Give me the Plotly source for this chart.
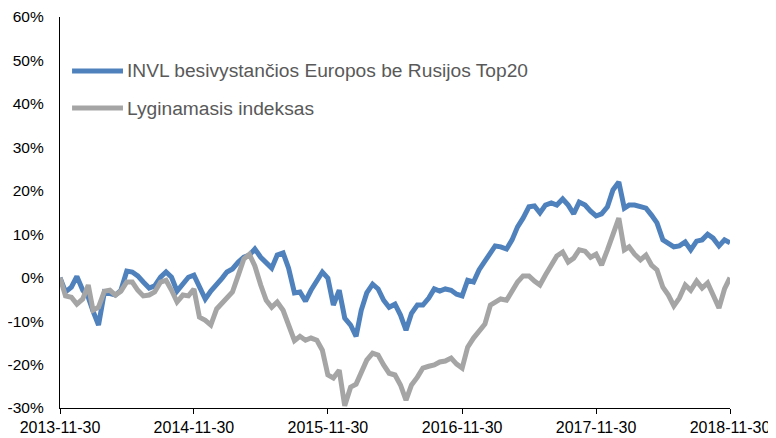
import plotly.graph_objects as go

dates = [
    "2013-11-30", "2013-12-15", "2013-12-31",
    "2014-01-15", "2014-01-31", "2014-02-15", "2014-02-28", "2014-03-15", "2014-03-31",
    "2014-04-15", "2014-04-30", "2014-05-15", "2014-05-31", "2014-06-15", "2014-06-30",
    "2014-07-15", "2014-07-31", "2014-08-15", "2014-08-31", "2014-09-15", "2014-09-30",
    "2014-10-15", "2014-10-31", "2014-11-15", "2014-11-30", "2014-12-15", "2014-12-31",
    "2015-01-15", "2015-01-31", "2015-02-15", "2015-02-28", "2015-03-15", "2015-03-31",
    "2015-04-15", "2015-04-30", "2015-05-15", "2015-05-31", "2015-06-15", "2015-06-30",
    "2015-07-15", "2015-07-31", "2015-08-15", "2015-08-31", "2015-09-15", "2015-09-30",
    "2015-10-15", "2015-10-31", "2015-11-15", "2015-11-30", "2015-12-15", "2015-12-31",
    "2016-01-15", "2016-01-31", "2016-02-15", "2016-02-29", "2016-03-15", "2016-03-31",
    "2016-04-15", "2016-04-30", "2016-05-15", "2016-05-31", "2016-06-15", "2016-06-30",
    "2016-07-15", "2016-07-31", "2016-08-15", "2016-08-31", "2016-09-15", "2016-09-30",
    "2016-10-15", "2016-10-31", "2016-11-15", "2016-11-30", "2016-12-15", "2016-12-31",
    "2017-01-15", "2017-01-31", "2017-02-15", "2017-02-28", "2017-03-15", "2017-03-31",
    "2017-04-15", "2017-04-30", "2017-05-15", "2017-05-31", "2017-06-15", "2017-06-30",
    "2017-07-15", "2017-07-31", "2017-08-15", "2017-08-31", "2017-09-15", "2017-09-30",
    "2017-10-15", "2017-10-31", "2017-11-15", "2017-11-30", "2017-12-15", "2017-12-31",
    "2018-01-15", "2018-01-31", "2018-02-15", "2018-02-28", "2018-03-15", "2018-03-31",
    "2018-04-15", "2018-04-30", "2018-05-15", "2018-05-31", "2018-06-15", "2018-06-30",
    "2018-07-15", "2018-07-31", "2018-08-15", "2018-08-31", "2018-09-15", "2018-09-30",
    "2018-10-15", "2018-10-31", "2018-11-15", "2018-11-30",
]

invl = [
    0, -3.3, -2.2, 0.3, -2.9, -4.5, -7.7, -10.9, -3.3, -3.8,
    -4.0, -2.9, 1.5, 1.3, 0.4, -1.0, -2.4, -1.9, 0.1, 1.3,
    0.1, -3.1, -1.2, 0.1, 0.6, -2.0, -4.9, -3.1, -1.7, -0.1,
    1.3, 2.0, 3.6, 4.7, 5.2, 6.6, 4.7, 3.4, 2.2, 5.2,
    5.7, 2.2, -3.5, -3.3, -5.4, -2.9, -0.6, 1.3, -0.1, -6.3,
    -2.9, -9.3, -10.9, -13.5, -7.5, -3.5, -1.5, -2.6, -5.2, -6.8,
    -6.1, -8.6, -12.1, -8.2, -6.3, -6.3, -4.7, -2.6, -3.1, -2.6,
    -2.9, -3.8, -4.2, -0.6, -1.0, 1.8, 3.8, 5.7, 7.3, 7.1,
    6.6, 8.7, 11.7, 13.7, 16.3, 16.5, 14.9, 16.7, 17.2, 16.7,
    18.1, 16.7, 14.7, 17.4, 16.7, 15.3, 14.2, 14.7, 16.3, 20.2,
    22.0, 16.0, 16.7, 16.7, 16.3, 16.0, 14.4, 12.6, 8.7, 8.0,
    7.1, 7.3, 8.2, 6.4, 8.4, 8.7, 10.0, 9.1, 7.3, 8.7,
    8.0,
]

index_vals = [
    0, -4.2, -4.5, -6.1, -4.9, -1.7, -7.5, -6.8, -3.1, -2.9,
    -4.0, -3.1, -1.0, -1.0, -2.9, -4.2, -4.0, -3.3, -1.0, -0.6,
    -2.9, -5.6, -4.0, -4.2, -2.6, -9.1, -9.8, -10.9, -7.2, -5.9,
    -4.7, -3.3, 0.6, 4.3, 5.4, 2.7, -1.7, -5.2, -6.8, -5.6,
    -7.5, -10.9, -14.5, -13.5, -14.4, -13.9, -14.4, -16.7, -22.4, -23.1,
    -21.3, -29.5, -25.2, -24.5, -21.5, -19.0, -17.4, -17.8, -20.1, -22.0,
    -22.4, -24.7, -28.2, -24.7, -22.9, -20.8, -20.4, -20.1, -19.4, -19.2,
    -18.5, -19.9, -20.8, -16.0, -13.9, -12.3, -10.7, -6.3, -5.6, -4.9,
    -5.2, -3.1, -1.0, 0.4, 0.4, -0.8, -1.7, 0.6, 2.7, 5.0,
    5.9, 3.6, 4.5, 6.4, 6.1, 4.7, 5.4, 2.9, 6.4, 10.3,
    13.7, 6.4, 7.1, 5.4, 4.1, 5.2, 2.9, 1.8, -2.2, -4.0,
    -6.5, -4.7, -1.7, -2.9, -0.8, -2.4, -1.2, -4.0, -7.0, -2.6,
    0.0,
]

series_names = ["INVL besivystančios Europos be Rusijos Top20", "Lyginamasis indeksas"]
series_colors = ["#4F81BD", "#A5A5A5"]

x_tick_vals = ["2013-11-30", "2014-11-30", "2015-11-30", "2016-11-30", "2017-11-30", "2018-11-30"]
y_tick_vals = [-30, -20, -10, 0, 10, 20, 30, 40, 50, 60]
y_tick_text = ["-30%", "-20%", "-10%", "0%", "10%", "20%", "30%", "40%", "50%", "60%"]

fig = go.Figure()
for name, vals, color in zip(series_names, [invl, index_vals], series_colors):
    fig.add_trace(go.Scatter(
        x=dates, y=vals, name=name, mode="lines",
        line=dict(color=color, width=5, shape="linear"),
        showlegend=False,
    ))

# manual legend (real text)
legend_y = [0.862, 0.767]
for name, color, ly in zip(series_names, series_colors, legend_y):
    fig.add_shape(type="line", xref="paper", yref="paper",
                  x0=0.018, x1=0.094, y0=ly, y1=ly,
                  line=dict(color=color, width=5))
    fig.add_annotation(xref="paper", yref="paper", x=0.097, y=ly,
                       text=name, showarrow=False, xanchor="left", yanchor="middle",
                       font=dict(family="Liberation Sans, Arial, sans-serif", size=19.2, color="#595959"))

# the page body adds an 8px offset, so the figure is 8px smaller on each axis
fig.update_layout(
    width=768, height=430,
    margin=dict(l=52, r=46, t=9, b=30, autoexpand=False),
    paper_bgcolor="white", plot_bgcolor="white",
    font=dict(family="Liberation Sans, Arial, sans-serif", size=15.5, color="#000000"),
    showlegend=False,
)
fig.update_xaxes(
    type="date", range=["2013-11-30", "2018-11-30"],
    tickvals=x_tick_vals, ticktext=x_tick_vals,
    showline=True, linecolor="black", linewidth=1.3,
    ticks="outside", ticklen=5, tickcolor="black", tickwidth=1.3,
    showgrid=False, zeroline=False, automargin=False,
    tickfont=dict(size=16),
)
fig.update_yaxes(
    range=[-30, 60], tickvals=y_tick_vals, ticktext=y_tick_text,
    showline=True, linecolor="black", linewidth=1.3,
    ticks="", showgrid=False, zeroline=False, automargin=False,
    ticklabelstandoff=12,
)

fig.write_html("out.html")
